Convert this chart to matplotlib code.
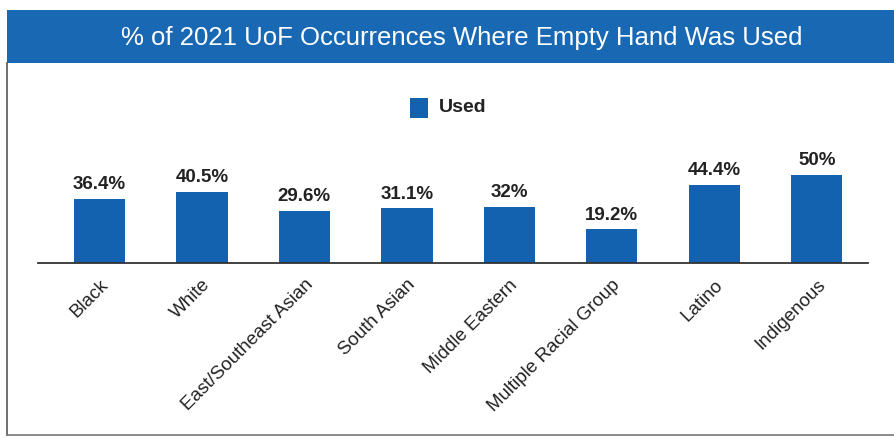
import matplotlib
matplotlib.use("Agg")
import matplotlib.pyplot as plt
from matplotlib.patches import Rectangle
from matplotlib.lines import Line2D
import matplotlib.transforms as mtransforms

categories = ["Black", "White", "East/Southeast Asian", "South Asian",
              "Middle Eastern", "Multiple Racial Group", "Latino", "Indigenous"]
used = [36.4, 40.5, 29.6, 31.1, 32, 19.2, 44.4, 50]
value_labels = ["36.4%", "40.5%", "29.6%", "31.1%", "32%", "19.2%", "44.4%", "50%"]

title = "% of 2021 UoF Occurrences Where Empty Hand Was Used"
series_name = "Used"

BLUE = "#1262b0"
BANNER = "#1868b4"
FONT = ["Liberation Sans", "DejaVu Sans"]

W, H = 895, 438
fig = plt.figure(figsize=(W / 100, H / 100), dpi=100)
fig.patch.set_facecolor("white")

# title banner
fig.patches.append(Rectangle((7 / W, 1 - 63 / H), 1 - 7 / W, 53 / H,
                             transform=fig.transFigure, facecolor=BANNER,
                             edgecolor="none", zorder=0))
fig.text(462 / W, 1 - 38 / H, title, color="white", fontsize=18.5,
         ha="center", va="center", family=FONT)

# panel frame (left and bottom edges)
fig.add_artist(Line2D([7.5 / W, 7.5 / W], [1 - 63 / H, 1 - 435 / H],
                      transform=fig.transFigure, color="#555555", lw=1.2))
fig.add_artist(Line2D([7.5 / W, 1], [1 - 435 / H, 1 - 435 / H],
                      transform=fig.transFigure, color="#777777", lw=1.2))

# legend
fig.patches.append(Rectangle((410 / W, 1 - 118 / H), 18 / W, 20 / H,
                             transform=fig.transFigure, facecolor=BLUE,
                             edgecolor="none"))
fig.text(439 / W, 1 - 108 / H, series_name, fontsize=14, fontweight="bold",
         ha="left", va="center", color="#222222", family=FONT)

# bar axes
ax_left, ax_right, ax_bottom, ax_top = 38, 868, 263, 170
ax = fig.add_axes([ax_left / W, 1 - ax_bottom / H,
                   (ax_right - ax_left) / W, (ax_bottom - ax_top) / H])
x = list(range(len(categories)))
ax.bar(x, used, width=0.5, color=BLUE, zorder=2)
ax.set_xlim(-0.6, len(categories) - 0.5)
ax.set_ylim(0, (ax_bottom - ax_top) / 1.76)

for xi, v, lab in zip(x, used, value_labels):
    ax.annotate(lab, (xi, v), xytext=(0, 4), textcoords="offset points",
                ha="center", va="bottom", fontsize=13.5, fontweight="bold",
                color="#222222", family=FONT, annotation_clip=False)

for side in ("top", "right", "left"):
    ax.spines[side].set_visible(False)
ax.spines["bottom"].set_color("#333333")
ax.spines["bottom"].set_linewidth(1.3)
ax.set_yticks([])
ax.set_xticks(x)
ax.set_xticklabels(categories, rotation=45, ha="right", va="center",
                   rotation_mode="anchor", fontsize=13.5, color="#222222",
                   family=FONT)
ax.tick_params(axis="x", length=0, pad=14)
shift = mtransforms.ScaledTranslation(6 / 100, 0, fig.dpi_scale_trans)
for t in ax.get_xticklabels():
    t.set_transform(t.get_transform() + shift)
ax.patch.set_visible(False)

fig.savefig("out.png", dpi=100)
